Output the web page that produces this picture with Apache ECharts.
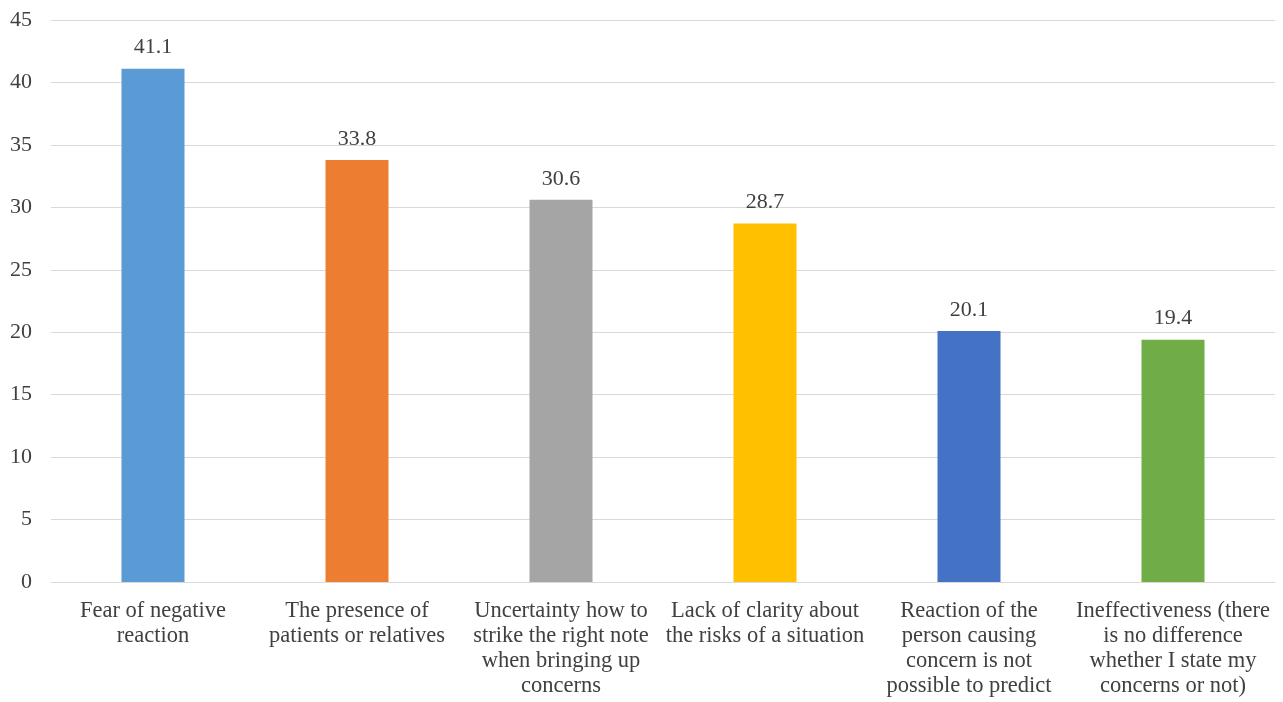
<!DOCTYPE html>
<html>
<head>
<meta charset="utf-8">
<script src="https://cdn.jsdelivr.net/npm/echarts@6/dist/echarts.min.js"></script>
<style>html,body{margin:0;padding:0;background:#fff}#c{width:1283px;height:702px}</style>
</head>
<body>
<div id="c"></div>
<script>
var categories = [
  "Fear of negative\nreaction",
  "The presence of\npatients or relatives",
  "Uncertainty how to\nstrike the right note\nwhen bringing up\nconcerns",
  "Lack of clarity about\nthe risks of a situation",
  "Reaction of the\nperson causing\nconcern is not\npossible to predict",
  "Ineffectiveness (there\nis no difference\nwhether I state my\nconcerns or not)"
];
var values = [41.1, 33.8, 30.6, 28.7, 20.1, 19.4];
var colors = ["#5B9BD5", "#ED7D31", "#A5A5A5", "#FFC000", "#4472C4", "#70AD47"];

var chart = echarts.init(document.getElementById('c'), null, {renderer: 'canvas'});
var font = '"Liberation Serif", "Times New Roman", serif';
chart.setOption({
  animation: false,
  textStyle: {fontFamily: font},
  grid: {left: 51, right: 8, top: 20, bottom: 120, containLabel: false},
  xAxis: {
    type: 'category',
    data: categories,
    axisLine: {show: true, lineStyle: {color: '#d9d9d9', width: 1}},
    axisTick: {show: false},
    axisLabel: {interval: 0, color: '#404040', fontFamily: font, fontSize: 22.5, lineHeight: 25, margin: 17}
  },
  yAxis: {
    type: 'value',
    min: 0, max: 45, interval: 5,
    axisLine: {show: false},
    axisTick: {show: false},
    splitLine: {lineStyle: {color: '#d9d9d9', width: 1}},
    axisLabel: {color: '#404040', fontFamily: font, fontSize: 22, margin: 19}
  },
  series: [{
    type: 'bar',
    data: values.map(function (v, i) { return {value: v, itemStyle: {color: colors[i]}}; }),
    barWidth: 63,
    label: {show: true, position: 'top', distance: 10, color: '#404040', fontFamily: font, fontSize: 22,
      formatter: function (p) { return p.value.toFixed(1); }}
  }]
});
</script>
</body>
</html>
